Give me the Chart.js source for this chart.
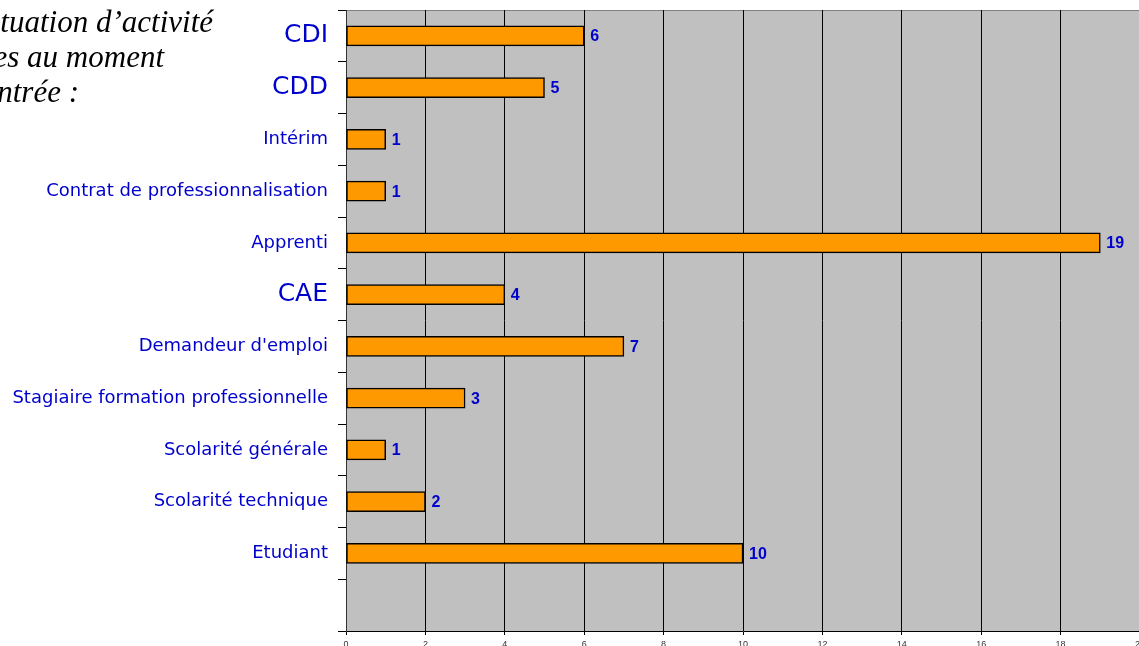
<!DOCTYPE html>
<html>
<head>
<meta charset="utf-8">
<script src="https://cdn.jsdelivr.net/npm/chart.js@4/dist/chart.umd.min.js"></script>
<style>
  html, body { margin: 0; padding: 0; background: #fff; overflow: hidden; }
  #wrap { width: 1139px; height: 646px; overflow: hidden; }
</style>
</head>
<body>
<div id="wrap"><canvas id="situationChart" width="1180" height="646"></canvas></div>
<script>
// Catégories (de haut en bas), dernière case vide comme dans l'original
const categories = ['CDI', 'CDD', 'Intérim', 'Contrat de professionnalisation', 'Apprenti', 'CAE',
    "Demandeur d'emploi", 'Stagiaire formation professionnelle', 'Scolarité générale',
    'Scolarité technique', 'Etudiant', ''];
const effectifs = [6, 5, 1, 1, 19, 4, 7, 3, 1, 2, 10, null];

// Graduations de l'axe horizontal
const xMin = 0;
const xMax = 20;
const xStep = 2;

// Titre (coupé à gauche dans l'original)
const titreLignes = ["Situation d\u2019activité", 'des stagiaires au moment', "de l\u2019entrée :"];

// Libellés affichés en plus gros
const grandsLibelles = ['CDI', 'CDD', 'CAE'];

// Plugin : fond gris de la zone, bord haut, valeurs au bout des barres, titre
const decorPlugin = {
    id: 'decor',
    beforeDraw(chart) {
        const { ctx, chartArea: a } = chart;
        ctx.save();
        ctx.fillStyle = '#c0c0c0';
        ctx.fillRect(a.left, a.top, a.right - a.left, a.bottom - a.top);
        ctx.strokeStyle = '#808080';
        ctx.lineWidth = 1;
        ctx.beginPath();
        ctx.moveTo(a.left, a.top + 0.5);
        ctx.lineTo(a.right, a.top + 0.5);
        ctx.stroke();
        ctx.restore();
    },
    afterDatasetsDraw(chart) {
        const { ctx } = chart;
        const meta = chart.getDatasetMeta(0);
        ctx.save();
        ctx.font = 'bold 16px "Liberation Sans", Arial, sans-serif';
        ctx.fillStyle = '#0000cc';
        ctx.textAlign = 'left';
        ctx.textBaseline = 'middle';
        meta.data.forEach((bar, i) => {
            const v = effectifs[i];
            if (v === null) return;
            ctx.fillText(String(v), bar.x + 6, bar.y + 1);
        });
        ctx.restore();
    },
    afterDraw(chart) {
        const { ctx } = chart;
        ctx.save();
        ctx.font = 'italic 31px "Liberation Serif", "Times New Roman", serif';
        ctx.fillStyle = '#000';
        ctx.textAlign = 'right';
        ctx.textBaseline = 'alphabetic';
        const fins = [213, 164, 79];
        titreLignes.forEach((t, i) => {
            ctx.fillText(t, fins[i], 32 + i * 35);
        });
        ctx.restore();
    }
};

const situationChart = new Chart(
    document.getElementById('situationChart'),
    {
        type: 'bar',
        data: {
            labels: categories,
            datasets: [{
                data: effectifs,
                backgroundColor: '#ff9900',
                borderColor: '#000',
                borderWidth: 1.5,
                borderSkipped: false,
                barThickness: 20
            }]
        },
        options: {
            indexAxis: 'y',
            responsive: false,
            animation: false,
            layout: { padding: { top: 10, right: 40, left: 0, bottom: 0 } },
            plugins: {
                legend: { display: false },
                tooltip: { enabled: false }
            },
            scales: {
                x: {
                    min: xMin,
                    max: xMax,
                    afterFit: s => { s.height = 15; s.paddingLeft = 0; s.paddingRight = 0; },
                    ticks: {
                        stepSize: xStep,
                        color: '#333',
                        font: { size: 9, family: '"Liberation Sans", Arial, sans-serif' },
                        padding: 4,
                        maxRotation: 0
                    },
                    grid: {
                        color: '#000',
                        lineWidth: 1,
                        tickLength: 4,
                        tickColor: '#000'
                    },
                    border: { color: '#000', width: 1 }
                },
                y: {
                    afterFit: s => { s.width = 346; s.paddingTop = 0; s.paddingBottom = 0; },
                    ticks: {
                        color: '#0000cc',
                        padding: 10,
                        font: ctx => ({
                            size: grandsLibelles.includes(categories[ctx.index]) ? 25 : 18,
                            family: '"DejaVu Sans", sans-serif'
                        })
                    },
                    grid: {
                        drawOnChartArea: false,
                        tickLength: 8,
                        tickColor: '#000',
                        offset: true
                    },
                    border: { color: '#333', width: 1 }
                }
            }
        },
        plugins: [decorPlugin]
    }
);
</script>
</body>
</html>
